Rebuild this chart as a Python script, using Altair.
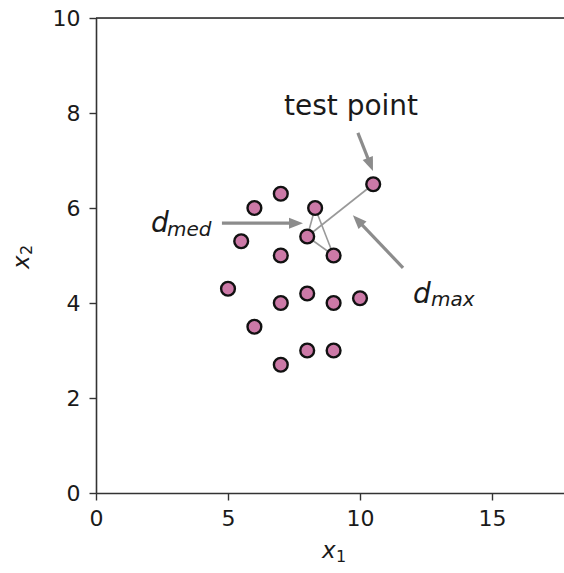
import math
import altair as alt
import pandas as pd

# ---- data ----
pts_x1 = [6, 7, 8.3, 8, 5.5, 7, 9, 5, 7, 8, 9, 10, 6, 8, 9, 7, 10.5]
pts_x2 = [6, 6.3, 6, 5.4, 5.3, 5, 5, 4.3, 4, 4.2, 4, 4.1, 3.5, 3, 3, 2.7, 6.5]

seg_x = [8, 8, 8, 8.3]
seg_y = [5.4, 5.4, 5.4, 6]
seg_x2 = [10.5, 8.3, 9, 9]
seg_y2 = [6.5, 6, 5, 5]

arrow_tail_x = [9.92, 4.77, 11.63]
arrow_tail_y = [7.58, 5.68, 4.74]
arrow_tip_x = [10.49, 7.84, 9.73]
arrow_tip_y = [6.78, 5.68, 5.85]

label_text = ["test point"]
label_x = [9.66]
label_y = [7.96]

math_text = ["d", "med", "d", "max"]
math_x = [2.08, 2.69, 12.01, 12.69]
math_y = [5.49, 5.41, 4.0, 3.94]
math_big = [1, 0, 1, 0]

x_ticks = [0, 5, 10, 15]
y_ticks = [0, 2, 4, 6, 8, 10]

# ---- layout ----
W, H = 468, 475
XMAX = 17.727
YMAX = 10
px_x = W / XMAX
px_y = H / YMAX
FONT = "DejaVu Sans"
GRAY = "#8c8c8c"
TXT = "#1a1a1a"

xs = alt.Scale(domain=[0, XMAX], nice=False, zero=False)
ys = alt.Scale(domain=[0, YMAX], nice=False, zero=False)

pts = pd.DataFrame({"x1": pts_x1, "x2": pts_x2})
segs = pd.DataFrame({"x": seg_x, "y": seg_y, "x2": seg_x2, "y2": seg_y2})

# arrows: shaft ends a little before the tip, head placed at tip
head_len = 14
shaft_rows, head_rows = [], []
for tx, ty, hx, hy in zip(arrow_tail_x, arrow_tail_y, arrow_tip_x, arrow_tip_y):
    dx = (hx - tx) * px_x
    dy = -(hy - ty) * px_y
    L = math.hypot(dx, dy)
    ux, uy = dx / L, dy / L
    bx = hx - ux * (head_len - 2) / px_x
    by = hy + uy * (head_len - 2) / px_y
    shaft_rows.append({"x": tx, "y": ty, "x2": bx, "y2": by})
    ang = math.degrees(math.atan2(dx, -dy)) % 360
    head_rows.append({"x": hx, "y": hy, "ang": ang})
shafts = pd.DataFrame(shaft_rows)
heads = pd.DataFrame(head_rows)

labels = pd.DataFrame({"x": label_x, "y": label_y, "t": label_text})
mt = pd.DataFrame({"x": math_x, "y": math_y, "t": math_text,
                   "fs": [28 if b else 20 for b in math_big]})

common = dict(grid=False, labelFontSize=22, labelFont=FONT, title="",
              labelColor=TXT, domainColor="#333", domainWidth=1.6,
              tickColor="#333", tickWidth=1.4, tickSize=7, labelFlush=False)
xaxis = alt.Axis(values=x_ticks, labelPadding=8, labelAngle=0, **common)
yaxis = alt.Axis(values=y_ticks, labelPadding=9, **common)

base_pts = alt.Chart(pts).mark_point(
    filled=True, fill="#CC79A7", stroke="#111", strokeWidth=2.4, size=190, opacity=1
).encode(x=alt.X("x1:Q", scale=xs, axis=xaxis), y=alt.Y("x2:Q", scale=ys, axis=yaxis))

seg_layer = alt.Chart(segs).mark_rule(color="#999999", strokeWidth=1.6).encode(
    x=alt.X("x:Q", scale=xs), y=alt.Y("y:Q", scale=ys), x2="x2:Q", y2="y2:Q")

shaft_layer = alt.Chart(shafts).mark_rule(color=GRAY, strokeWidth=3.2).encode(
    x=alt.X("x:Q", scale=xs), y=alt.Y("y:Q", scale=ys), x2="x2:Q", y2="y2:Q")

head_layer = alt.Chart(heads).mark_point(
    shape="M0,0L0.55,1.4L-0.55,1.4Z", filled=True, fill=GRAY, strokeWidth=0,
    size=400, opacity=1
).encode(x=alt.X("x:Q", scale=xs), y=alt.Y("y:Q", scale=ys),
         angle=alt.Angle("ang:Q", scale=None))

label_layer = alt.Chart(labels).mark_text(
    font=FONT, fontSize=28, align="center", baseline="alphabetic", color=TXT
).encode(x=alt.X("x:Q", scale=xs), y=alt.Y("y:Q", scale=ys), text="t:N")

math_layer = alt.Chart(mt).mark_text(
    font=FONT, fontStyle="italic", align="left", baseline="alphabetic", color=TXT
).encode(x=alt.X("x:Q", scale=xs), y=alt.Y("y:Q", scale=ys), text="t:N",
         size=alt.Size("fs:Q", scale=None))

# axis titles x_1 and x_2 (italic x with upright subscript digit)
one = pd.DataFrame({"a": [0]})
xt_x = alt.Chart(one).mark_text(font=FONT, fontSize=23, fontStyle="italic",
                                align="left", baseline="alphabetic", color=TXT).encode(
    x=alt.value(226), y=alt.value(540), text=alt.value("x"))
xt_1 = alt.Chart(one).mark_text(font=FONT, fontSize=16, align="left",
                                baseline="alphabetic", color=TXT).encode(
    x=alt.value(240), y=alt.value(544), text=alt.value("1"))
yt_x = alt.Chart(one).mark_text(font=FONT, fontSize=23, fontStyle="italic", angle=270,
                                align="left", baseline="alphabetic", color=TXT).encode(
    x=alt.value(-67), y=alt.value(251), text=alt.value("x"))
yt_2 = alt.Chart(one).mark_text(font=FONT, fontSize=16, angle=270,
                                align="left", baseline="alphabetic", color=TXT).encode(
    x=alt.value(-64), y=alt.value(237), text=alt.value("2"))

top_spine = alt.Chart(one).mark_rule(
    color="#222", strokeWidth=1.6).encode(
    x=alt.value(0), x2=alt.value(W), y=alt.value(0))

chart = alt.layer(
    seg_layer, shaft_layer, head_layer, base_pts, label_layer, math_layer,
    xt_x, xt_1, yt_x, yt_2, top_spine
).properties(
    width=W, height=H,
    autosize=alt.AutoSizeParams(type="none"),
    padding={"left": 96, "top": 18, "right": 0, "bottom": 80},
).configure_view(stroke=None).configure(background="white")

chart.save("out.html", embed_options={"renderer": "svg", "actions": False})
